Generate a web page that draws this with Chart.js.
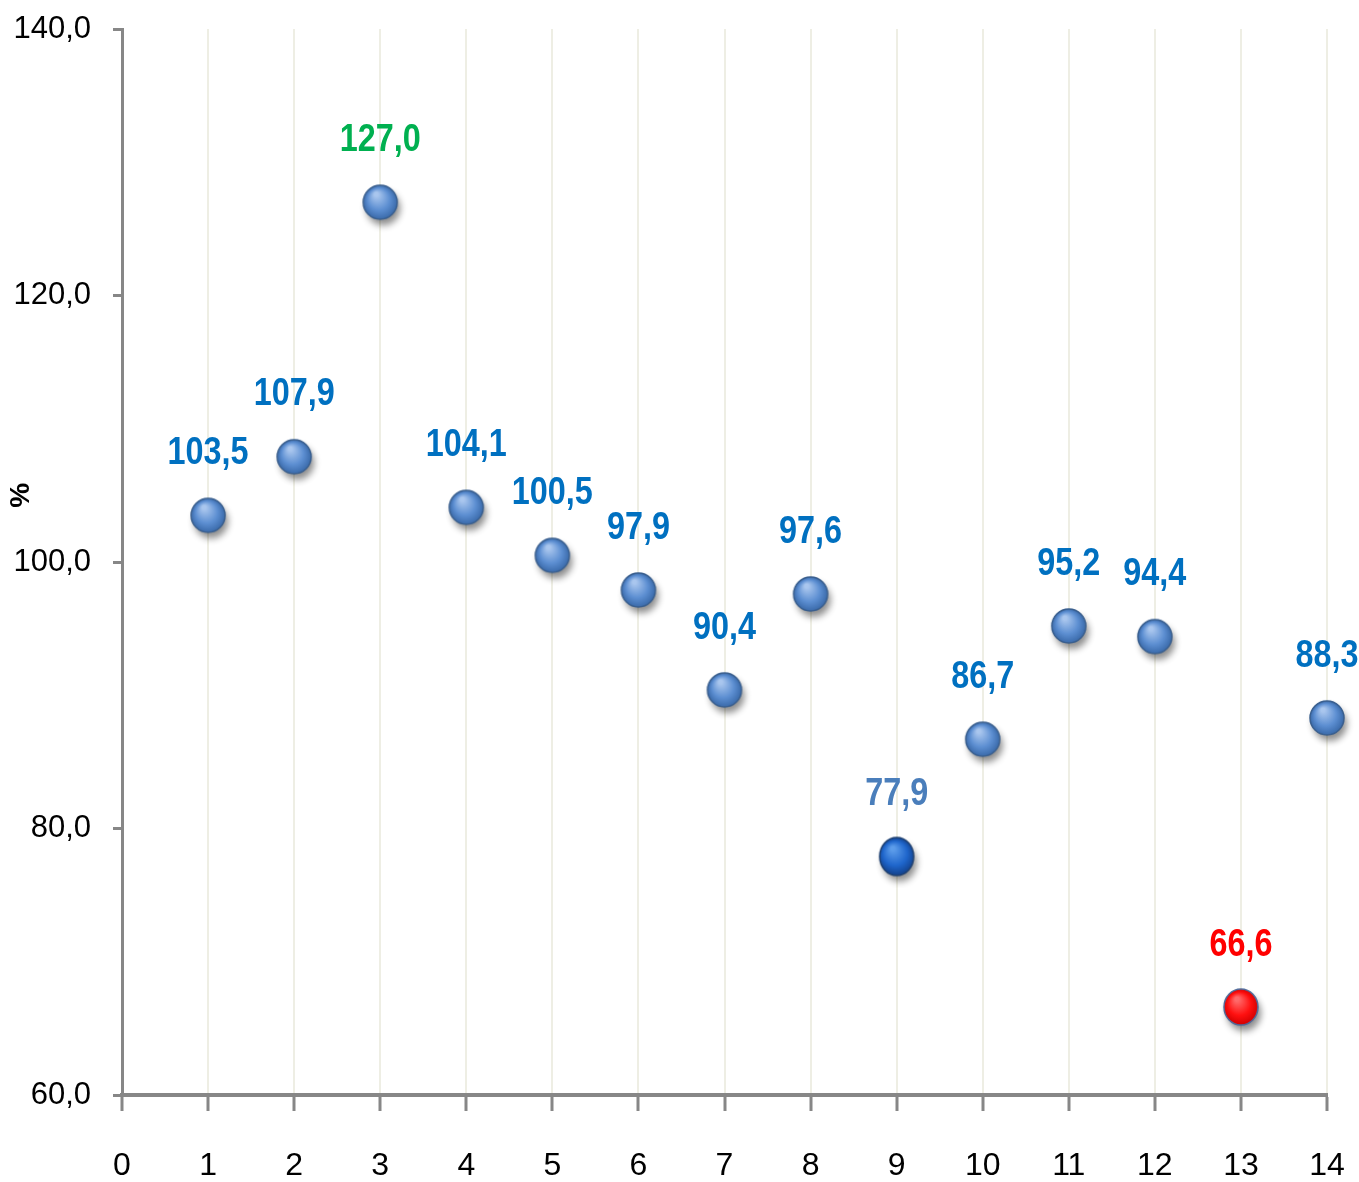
<!DOCTYPE html>
<html>
<head>
<meta charset="utf-8">
<script src="https://cdn.jsdelivr.net/npm/chart.js@4/dist/chart.umd.min.js"></script>
<style>
  html, body { margin: 0; padding: 0; background: #ffffff; }
  #wrap { width: 1359px; height: 1182px; position: relative; }
</style>
</head>
<body>
<div id="wrap"><canvas id="chart" width="1359" height="1182"></canvas></div>
<script>
// Data
const xPositions = [1, 2, 3, 4, 5, 6, 7, 8, 9, 10, 11, 12, 13, 14];
const percentValues = [103.5, 107.9, 127.0, 104.1, 100.5, 97.9, 90.4, 97.6, 77.9, 86.7, 95.2, 94.4, 66.6, 88.3];
const xTicks = [0, 1, 2, 3, 4, 5, 6, 7, 8, 9, 10, 11, 12, 13, 14];
const yTicks = [60, 80, 100, 120, 140];
const yAxisTitle = '%';

// Styling
const FONT = "'Liberation Sans', Arial, sans-serif";
const labelColors = ['#0070C0', '#0070C0', '#00B050', '#0070C0', '#0070C0', '#0070C0', '#0070C0',
    '#0070C0', '#4A7EBB', '#0070C0', '#0070C0', '#0070C0', '#FF0000', '#0070C0'];

// Build a little shaded sphere to use as point image
function makeSphere(light, mid, dark, rim, rx, ry) {
    const c = document.createElement('canvas');
    c.width = 64; c.height = 64;
    const g = c.getContext('2d');
    const cx = 32, cy = 32;
    g.save();
    g.shadowColor = 'rgba(0,0,0,0.45)';
    g.shadowBlur = 7;
    g.shadowOffsetX = 3;
    g.shadowOffsetY = 6;
    const grad = g.createRadialGradient(cx - 4, cy - 8, 2, cx, cy, Math.max(rx, ry));
    grad.addColorStop(0, light);
    grad.addColorStop(0.6, mid);
    grad.addColorStop(1, dark);
    g.fillStyle = grad;
    g.beginPath();
    g.ellipse(cx, cy, rx, ry, 0, 0, Math.PI * 2);
    g.fill();
    g.restore();
    g.lineWidth = 1.5;
    g.strokeStyle = rim;
    g.beginPath();
    g.ellipse(cx, cy, rx, ry, 0, 0, Math.PI * 2);
    g.stroke();
    return c;
}

const blueSphere = makeSphere('#A9C6EE', '#5D8FD2', '#3A6AAA', '#3A5F8E', 17, 17);
const darkSphere = makeSphere('#5C9CEA', '#1F66CC', '#12408A', '#1D3F70', 17, 19);
const redSphere = makeSphere('#FF6A6A', '#FF1010', '#D00000', '#4D6A9A', 17, 18);

const pointImages = percentValues.map((v, i) => {
    if (i === 8) return darkSphere;
    if (i === 12) return redSphere;
    return blueSphere;
});

const fmt = v => v.toFixed(1).replace('.', ',');

// Value labels above the points (squeezed a bit to look like a narrow font)
// plus the rotated "%" axis title
const valueLabels = {
    id: 'valueLabels',
    afterDatasetsDraw(chart) {
        const ctx = chart.ctx;
        const meta = chart.getDatasetMeta(0);
        ctx.save();
        ctx.font = 'bold 39px ' + FONT;
        ctx.textAlign = 'center';
        ctx.textBaseline = 'middle';
        meta.data.forEach((pt, i) => {
            ctx.save();
            ctx.translate(pt.x, pt.y - 62);
            ctx.scale(0.83, 1);
            ctx.fillStyle = labelColors[i];
            ctx.fillText(fmt(percentValues[i]), 0, 0);
            ctx.restore();
        });
        ctx.restore();

        const y = chart.scales.y;
        ctx.save();
        ctx.translate(21, y.getPixelForValue(105));
        ctx.rotate(-Math.PI / 2);
        ctx.font = 'bold 28px ' + FONT;
        ctx.fillStyle = '#000000';
        ctx.textAlign = 'center';
        ctx.textBaseline = 'middle';
        ctx.fillText(yAxisTitle, 0, 0);
        ctx.restore();
    }
};

const ctx = document.getElementById('chart');
new Chart(ctx, {
    type: 'scatter',
    data: {
        datasets: [{
            data: xPositions.map((x, i) => ({ x: x, y: percentValues[i] })),
            pointStyle: pointImages,
            pointRadius: 17,
            clip: false
        }]
    },
    options: {
        responsive: false,
        animation: false,
        events: [],
        layout: { padding: { top: 29, right: 32, left: 0, bottom: 0 } },
        plugins: {
            legend: { display: false },
            tooltip: { enabled: false }
        },
        scales: {
            x: {
                type: 'linear',
                min: 0,
                max: 14,
                afterBuildTicks: axis => { axis.ticks = xTicks.map(v => ({ value: v })); },
                afterFit: axis => {
                    axis.height = 87;
                    axis.paddingLeft = 0;
                    axis.paddingRight = 0;
                },
                border: { color: '#878787', width: 4 },
                grid: {
                    color: '#EEEEE4',
                    lineWidth: 2,
                    tickColor: '#878787',
                    tickWidth: 3,
                    tickLength: 16
                },
                ticks: {
                    color: '#000000',
                    padding: 36,
                    font: { family: FONT, size: 32 },
                    callback: v => String(v)
                }
            },
            y: {
                type: 'linear',
                min: 60,
                max: 140,
                afterBuildTicks: axis => { axis.ticks = yTicks.map(v => ({ value: v })); },
                afterFit: axis => {
                    axis.width = 122;
                    axis.paddingTop = 0;
                    axis.paddingBottom = 0;
                },
                border: { color: '#878787', width: 3 },
                grid: {
                    drawOnChartArea: false,
                    tickColor: '#878787',
                    tickWidth: 3,
                    tickLength: 9
                },
                ticks: {
                    color: '#000000',
                    padding: 22,
                    font: { family: FONT, size: 31 },
                    callback: v => fmt(v)
                }
            }
        }
    },
    plugins: [valueLabels]
});
</script>
</body>
</html>
